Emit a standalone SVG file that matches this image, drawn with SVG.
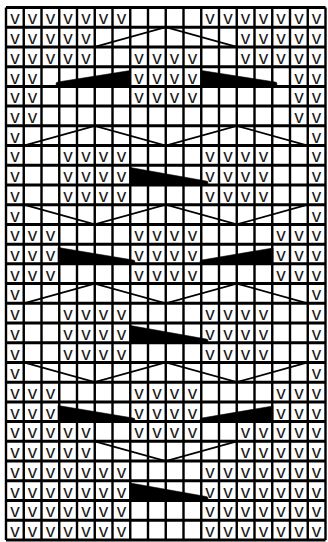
<svg xmlns="http://www.w3.org/2000/svg" width="328" height="542" viewBox="0 0 328 542">
<style>
.grid{fill:none;stroke:#000}
.gv{stroke-width:2.4}
.gh{stroke-width:3}
.v{font-family:"Liberation Sans",Arial,sans-serif;font-size:19px;text-anchor:middle;fill:#1a1a1a}
.cable{fill:none;stroke:#000;stroke-width:1.8;stroke-linejoin:miter}
.wedge{fill:#000;stroke:#000;stroke-width:0.6;stroke-linejoin:round}
</style>
<rect x="0" y="0" width="328" height="542" fill="#fff"/>
<g id="grid" class="grid">
<path class="gv" d="M6,7.5V540M23.75,7.5V540M41.5,7.5V540M59.25,7.5V540M77,7.5V540M94.75,7.5V540M112.5,7.5V540M130.25,7.5V540M148,7.5V540M165.75,7.5V540M183.5,7.5V540M201.25,7.5V540M219,7.5V540M236.75,7.5V540M254.5,7.5V540M272.25,7.5V540M290,7.5V540M307.75,7.5V540M325.5,7.5V540"/>
<path class="gh" d="M6,7.5H325.5M6,27.22H325.5M6,46.94H325.5M6,66.66H325.5M6,86.38H325.5M6,106.1H325.5M6,125.82H325.5M6,145.54H325.5M6,165.26H325.5M6,184.98H325.5M6,204.7H325.5M6,224.42H325.5M6,244.14H325.5M6,263.86H325.5M6,283.58H325.5M6,303.3H325.5M6,323.02H325.5M6,342.74H325.5M6,362.46H325.5M6,382.18H325.5M6,401.9H325.5M6,421.62H325.5M6,441.34H325.5M6,461.06H325.5M6,480.78H325.5M6,500.5H325.5M6,520.22H325.5M6,539.94H325.5"/>
</g>
<g id="stitches" class="v">
<text x="14.9 32.6 50.4 68.1 85.9 103.6 121.4 210.1 227.9 245.6 263.4 281.1 298.9 316.6" y="24.3">vvvvvvvvvvvvvv</text>
<text x="14.9 32.6 50.4 68.1 85.9 245.6 263.4 281.1 298.9 316.6" y="44.0">vvvvvvvvvv</text>
<text x="14.9 32.6 50.4 68.1 85.9 139.1 156.9 174.6 192.4 245.6 263.4 281.1 298.9 316.6" y="63.7">vvvvvvvvvvvvvv</text>
<text x="14.9 32.6 139.1 156.9 174.6 192.4 298.9 316.6" y="83.5">vvvvvvvv</text>
<text x="14.9 32.6 139.1 156.9 174.6 192.4 298.9 316.6" y="103.2">vvvvvvvv</text>
<text x="14.9 32.6 298.9 316.6" y="122.9">vvvv</text>
<text x="14.9 316.6" y="142.6">vv</text>
<text x="14.9 68.1 85.9 103.6 121.4 210.1 227.9 245.6 263.4 316.6" y="162.3">vvvvvvvvvv</text>
<text x="14.9 68.1 85.9 103.6 121.4 210.1 227.9 245.6 263.4 316.6" y="182.1">vvvvvvvvvv</text>
<text x="14.9 68.1 85.9 103.6 121.4 210.1 227.9 245.6 263.4 316.6" y="201.8">vvvvvvvvvv</text>
<text x="14.9 316.6" y="221.5">vv</text>
<text x="14.9 32.6 50.4 139.1 156.9 174.6 192.4 281.1 298.9 316.6" y="241.2">vvvvvvvvvv</text>
<text x="14.9 32.6 50.4 139.1 156.9 174.6 192.4 281.1 298.9 316.6" y="260.9">vvvvvvvvvv</text>
<text x="14.9 32.6 50.4 139.1 156.9 174.6 192.4 281.1 298.9 316.6" y="280.7">vvvvvvvvvv</text>
<text x="14.9 316.6" y="300.4">vv</text>
<text x="14.9 68.1 85.9 103.6 121.4 210.1 227.9 245.6 263.4 316.6" y="320.1">vvvvvvvvvv</text>
<text x="14.9 68.1 85.9 103.6 121.4 210.1 227.9 245.6 263.4 316.6" y="339.8">vvvvvvvvvv</text>
<text x="14.9 68.1 85.9 103.6 121.4 210.1 227.9 245.6 263.4 316.6" y="359.5">vvvvvvvvvv</text>
<text x="14.9 316.6" y="379.3">vv</text>
<text x="14.9 32.6 50.4 139.1 156.9 174.6 192.4 281.1 298.9 316.6" y="399.0">vvvvvvvvvv</text>
<text x="14.9 32.6 50.4 139.1 156.9 174.6 192.4 281.1 298.9 316.6" y="418.7">vvvvvvvvvv</text>
<text x="14.9 32.6 50.4 68.1 85.9 139.1 156.9 174.6 192.4 245.6 263.4 281.1 298.9 316.6" y="438.4">vvvvvvvvvvvvvv</text>
<text x="14.9 32.6 50.4 68.1 85.9 245.6 263.4 281.1 298.9 316.6" y="458.1">vvvvvvvvvv</text>
<text x="14.9 32.6 50.4 68.1 85.9 103.6 121.4 210.1 227.9 245.6 263.4 281.1 298.9 316.6" y="477.9">vvvvvvvvvvvvvv</text>
<text x="14.9 32.6 50.4 68.1 85.9 103.6 121.4 210.1 227.9 245.6 263.4 281.1 298.9 316.6" y="497.6">vvvvvvvvvvvvvv</text>
<text x="14.9 32.6 50.4 68.1 85.9 103.6 121.4 210.1 227.9 245.6 263.4 281.1 298.9 316.6" y="517.3">vvvvvvvvvvvvvv</text>
<text x="14.9 32.6 50.4 68.1 85.9 103.6 121.4 210.1 227.9 245.6 263.4 281.1 298.9 316.6" y="537.0">vvvvvvvvvvvvvv</text>
</g>
<g id="cables" class="cable">
<path d="M94.75,46.94L165.75,27.22L236.75,46.94"/>
<path d="M23.75,145.54L94.75,125.82L165.75,145.54L236.75,125.82L307.75,145.54"/>
<path d="M23.75,204.7L94.75,224.42L165.75,204.7L236.75,224.42L307.75,204.7"/>
<path d="M23.75,303.3L94.75,283.58L165.75,303.3L236.75,283.58L307.75,303.3"/>
<path d="M23.75,362.46L94.75,382.18L165.75,362.46L236.75,382.18L307.75,362.46"/>
<path d="M94.75,441.34L165.75,461.06L236.75,441.34"/>
</g>
<g id="wedges" class="wedge">
<path d="M130.25,70.5L130.25,86L58,86A2,2 0 0 1 58,82Z"/>
<path d="M201.25,70.5L275,82A2,2 0 0 1 275,86L201.25,86Z"/>
<path d="M130.25,167.5L206,181A2,2 0 0 1 206,185L130.25,185Z"/>
<path d="M58,247.5L133,260A2,2 0 0 1 133,264L58,264Z"/>
<path d="M273,248L273,264L202,264A2,2 0 0 1 202,260Z"/>
<path d="M130.25,325.5L206,339A2,2 0 0 1 206,343L130.25,343Z"/>
<path d="M58,405.5L133,418A2,2 0 0 1 133,422L58,422Z"/>
<path d="M273,406L273,422L202,422A2,2 0 0 1 202,418Z"/>
<path d="M130.25,483L206,496.5A2,2 0 0 1 206,500.5L130.25,500.5Z"/>
</g>
</svg>
